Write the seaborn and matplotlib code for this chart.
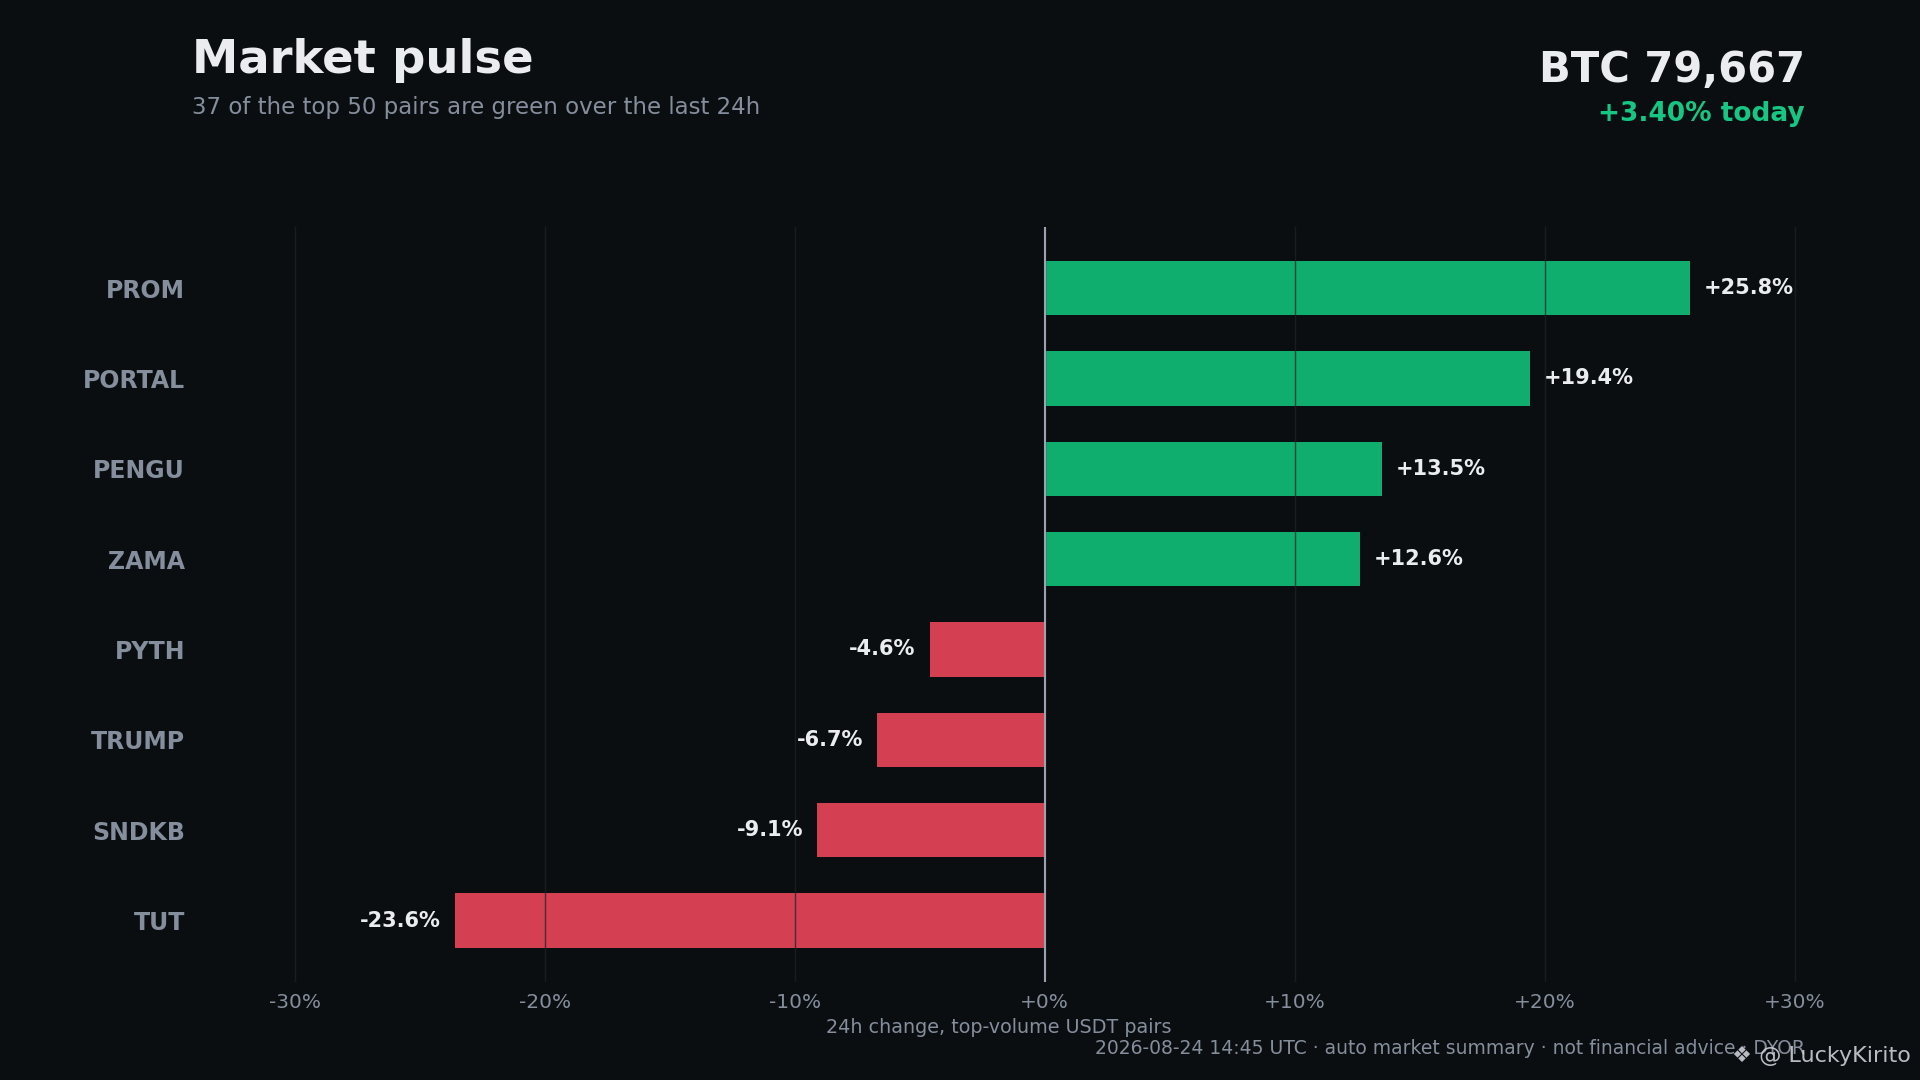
import matplotlib
matplotlib.use("Agg")
import matplotlib.pyplot as plt
import seaborn as sns
import pandas as pd

# values
pairs = ["PROM", "PORTAL", "PENGU", "ZAMA", "PYTH", "TRUMP", "SNDKB", "TUT"]
change_pct = [25.8, 19.4, 13.5, 12.6, -4.6, -6.7, -9.1, -23.6]
x_ticks = [-30, -20, -10, 0, 10, 20, 30]
x_limits = (-34.1, 30.4)

title = "Market pulse"
subtitle = "37 of the top 50 pairs are green over the last 24h"
btc_price = "BTC 79,667"
btc_change = "+3.40% today"
x_label = "24h change, top-volume USDT pairs"
footer = "2026-08-24 14:45 UTC · auto market summary · not financial advice · DYOR"
watermark = "❖ @ LuckyKirito"

BG = "#0b0e11"
GREEN = "#0fae6f"
RED = "#d43f52"
TEXT = "#eaecef"
MUTED = "#848e9c"


def main():
    df = pd.DataFrame({"pair": pairs, "change": change_pct})
    colors = {p: (GREEN if c >= 0 else RED) for p, c in zip(pairs, change_pct)}

    sns.set_theme(style="dark")
    plt.rcParams["font.family"] = ["DejaVu Sans"]

    fig = plt.figure(figsize=(19.2, 10.8), dpi=100, facecolor=BG)
    ax = fig.add_axes([0.1, 0.0907, 0.84, 0.6995])
    ax.set_facecolor(BG)

    sns.barplot(data=df, x="change", y="pair", hue="pair", palette=colors,
                orient="h", width=0.6, legend=False, saturation=1,
                linewidth=0, ax=ax)

    # value labels at the bar ends
    for cont in ax.containers:
        vals = [f"{v:+.1f}%" for v in cont.datavalues]
        ax.bar_label(cont, labels=vals, padding=10, color=TEXT,
                     fontsize=15, fontweight="bold")

    ax.set_xlim(*x_limits)
    ax.set_ylim(len(pairs) - 1 + 0.68, -0.68)
    ax.set_xticks(x_ticks)
    ax.set_xticklabels([f"{t:+d}%" if t >= 0 else f"{t}%" for t in x_ticks])
    ax.tick_params(axis="x", colors=MUTED, labelsize=14.5, length=0, pad=8)
    ax.tick_params(axis="y", colors=MUTED, labelsize=17, length=0, pad=5)
    for lbl in ax.get_yticklabels():
        lbl.set_fontweight("bold")
        lbl.set_color(MUTED)

    ax.grid(axis="x", color="#1e2329", alpha=0.75, linewidth=1)
    ax.grid(axis="y", visible=False)
    ax.set_axisbelow(False)
    ax.axvline(0, color="#9aa3af", linewidth=1.5, zorder=4)
    for s in ax.spines.values():
        s.set_visible(False)

    ax.set_ylabel("")
    ax.set_xlabel(x_label, color=MUTED, fontsize=13.8, labelpad=4)

    fig.text(0.1, 0.932, title, color=TEXT, fontsize=33.5, fontweight="bold",
             ha="left", va="baseline")
    fig.text(0.1, 0.894, subtitle, color=MUTED, fontsize=16.5,
             ha="left", va="baseline")
    fig.text(0.94, 0.924, btc_price, color=TEXT, fontsize=30, fontweight="bold",
             ha="right", va="baseline")
    fig.text(0.94, 0.888, btc_change, color="#16c784", fontsize=19,
             fontweight="bold", ha="right", va="baseline")
    fig.text(0.94, 0.024, footer, color=MUTED, fontsize=13.5,
             ha="right", va="baseline")
    fig.text(0.995, 0.017, watermark, color="#d8dce2", alpha=0.85,
             fontsize=16, ha="right", va="baseline")

    fig.savefig("out.png", dpi=100, facecolor=BG)
    plt.close(fig)


if __name__ == "__main__":
    main()
